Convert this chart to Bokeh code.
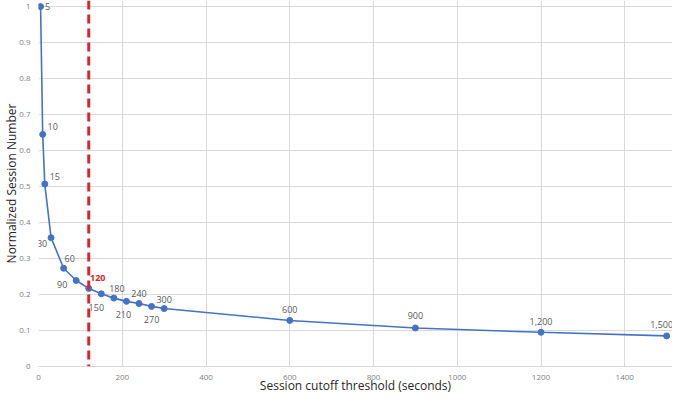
from bokeh.plotting import figure
from bokeh.models import FixedTicker, CustomJSTickFormatter, ColumnDataSource, Span, Range1d, Label
from bokeh.embed import file_html
from bokeh.resources import INLINE

# ---- data ----
cutoff_seconds = [5, 10, 15, 30, 60, 90, 120, 150, 180, 210, 240, 270, 300, 600, 900, 1200, 1500]
normalized_sessions = [1.0, 0.645, 0.507, 0.358, 0.273, 0.239, 0.217, 0.202, 0.190,
                       0.181, 0.175, 0.167, 0.161, 0.128, 0.107, 0.095, 0.085]
highlight_cutoff = 120
x_ticks = [0, 200, 400, 600, 800, 1000, 1200, 1400]
y_ticks = [0, 0.1, 0.2, 0.3, 0.4, 0.5, 0.6, 0.7, 0.8, 0.9, 1.0]

# ---- label placement (pixel offsets, style only; positive dy = down) ----
label_dx = [7, 10, 10, -9, 6, -14, 9, -5, 3, -3, 0, 0, 0, 0, 0, 0, -5]
label_dy = [0, -8, -8, 6, -10, 4, -10, 14, -10, 13, -10, 13, -9, -11, -12, -11, -11]

BLUE = "#4472c4"
RED = "#d9262c"
FONT = "Open Sans"

# small headroom so edge labels are not clipped by the frame
p = figure(width=672, height=396, output_backend="svg", toolbar_location=None,
           x_range=Range1d(0, 1514), y_range=Range1d(0, 1.017),
           min_border_left=4, min_border_right=0, min_border_top=0, min_border_bottom=0)
p.outline_line_color = None
p.background_fill_color = "white"

# axes
p.xaxis.ticker = FixedTicker(ticks=x_ticks)
p.yaxis.ticker = FixedTicker(ticks=y_ticks)
p.yaxis.formatter = CustomJSTickFormatter(code="return String(Math.round(tick*10)/10);")
for ax in (p.xaxis[0], p.yaxis[0]):
    ax.major_tick_line_color = None
    ax.minor_tick_line_color = None
    ax.major_label_text_font = FONT
    ax.major_label_text_font_size = "8px"
    ax.major_label_text_color = "#7f7f7f"
    ax.axis_label_text_font = FONT
    ax.axis_label_text_font_size = "12px"
    ax.axis_label_text_font_style = "normal"
    ax.axis_label_text_color = "#262626"
    ax.axis_label_text_line_height = 0.8
    ax.major_label_text_line_height = 1.0
p.yaxis.axis_line_color = None
p.xaxis.axis_line_color = "#d9d9d9"
p.xaxis.axis_label = "Session cutoff threshold (seconds)"
p.yaxis.axis_label = "Normalized Session Number"
p.xaxis.major_label_standoff = 2
p.xaxis.axis_label_standoff = -6
p.yaxis.major_label_standoff = 2
p.yaxis.axis_label_standoff = -4

p.xgrid.ticker = FixedTicker(ticks=x_ticks)
p.ygrid.ticker = FixedTicker(ticks=y_ticks)
p.grid.grid_line_color = "#d9d9d9"
p.grid.grid_line_width = 1

# highlight line
p.add_layout(Span(location=highlight_cutoff, dimension="height", line_color=RED,
                  line_width=3, line_dash="9 5"))

src = ColumnDataSource(dict(x=cutoff_seconds, y=normalized_sessions))
p.line("x", "y", source=src, line_color=BLUE, line_width=1.6)
p.scatter("x", "y", source=src, size=6, fill_color=BLUE, line_color=BLUE)

# data labels
for xv, yv, dx, dy in zip(cutoff_seconds, normalized_sessions, label_dx, label_dy):
    hi = xv == highlight_cutoff
    p.add_layout(Label(x=xv, y=yv, text="{:,}".format(xv), x_offset=dx, y_offset=-dy,
                       text_font=FONT, text_font_size="9px",
                       text_color=RED if hi else "#595959",
                       text_font_style="bold" if hi else "normal",
                       text_align="center", text_baseline="middle"))

open("out.html", "w").write(file_html(p, INLINE))
